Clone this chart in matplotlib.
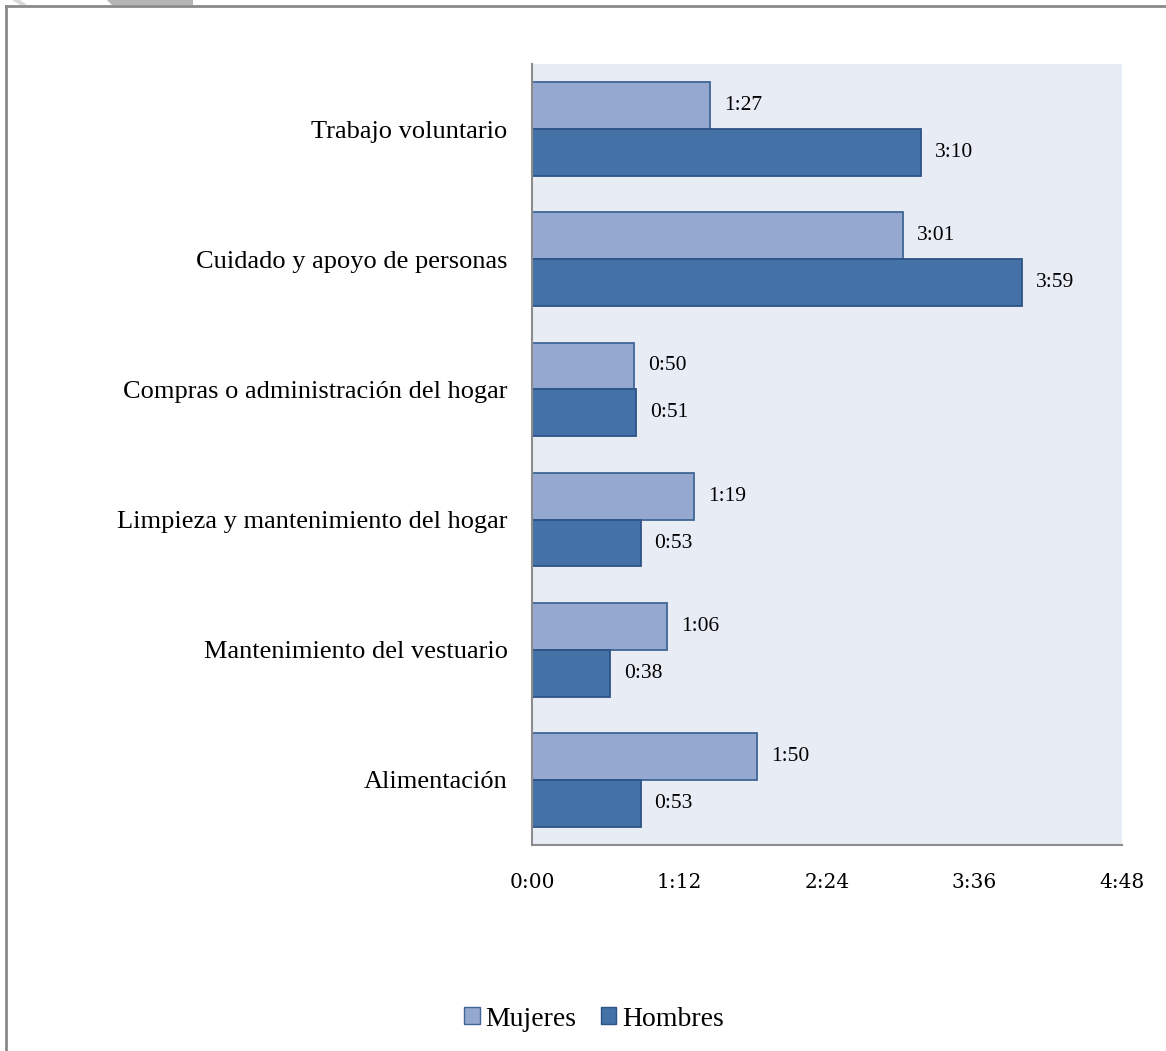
import matplotlib
matplotlib.use("Agg")
import matplotlib.pyplot as plt
from matplotlib.patches import Patch, Polygon
from matplotlib.lines import Line2D

# Categories listed bottom to top
categories = [
    "Alimentación",
    "Mantenimiento del vestuario",
    "Limpieza y mantenimiento del hogar",
    "Compras o administración del hogar",
    "Cuidado y apoyo de personas",
    "Trabajo voluntario",
]
# Average time in minutes
mujeres = [110, 66, 79, 50, 181, 87]
hombres = [53, 38, 53, 51, 239, 190]
tick_minutes = [0, 72, 144, 216, 288]


def fmt(m):
    return f"{m // 60}:{m % 60:02d}"


W, H = 1166, 1051
fig = plt.figure(figsize=(W / 100, H / 100), dpi=100)
fig.patch.set_facecolor("white")

# frame around the chart
fig.add_artist(Line2D([5.5 / W, 5.5 / W], [0, 1 - 6 / H], transform=fig.transFigure,
                      color="#8a8a8a", lw=2))
fig.add_artist(Line2D([5.5 / W, 1], [1 - 6 / H, 1 - 6 / H], transform=fig.transFigure,
                      color="#8a8a8a", lw=2))
# grey shapes along the top edge
fig.add_artist(Polygon([[12 / W, 1], [20 / W, 1 - 5 / H], [27 / W, 1 - 5 / H], [20 / W, 1]],
                       closed=True, transform=fig.transFigure, color="#d9d9d9", lw=0))
fig.add_artist(Polygon([[107 / W, 1], [112 / W, 1 - 5 / H], [193 / W, 1 - 5 / H], [193 / W, 1]],
                       closed=True, transform=fig.transFigure, color="#b5b5b5", lw=0))

left, right, top, bottom = 532, 1122, 64, 845
ax = fig.add_axes([left / W, 1 - bottom / H, (right - left) / W, (bottom - top) / H])
ax.set_facecolor("#E8ECF4")

y = list(range(len(categories)))
h = 0.36
col_m, edge_m = "#95A9D0", "#3F6595"
col_h, edge_h = "#4472A7", "#2D5487"
ax.barh([v + h / 2 for v in y], mujeres, height=h, color=col_m, edgecolor=edge_m, lw=1.3)
ax.barh([v - h / 2 for v in y], hombres, height=h, color=col_h, edgecolor=edge_h, lw=1.3)

serif = "Liberation Serif"
for i in y:
    ax.annotate(fmt(mujeres[i]), (mujeres[i], i + h / 2), xytext=(14, 0),
                textcoords="offset pixels", va="center", ha="left",
                fontsize=15.5, family=serif)
    ax.annotate(fmt(hombres[i]), (hombres[i], i - h / 2), xytext=(14, 0),
                textcoords="offset pixels", va="center", ha="left",
                fontsize=15.5, family=serif)

ax.set_xlim(0, 288)
ax.set_ylim(-0.5, len(categories) - 0.5)
ax.set_xticks(tick_minutes)
ax.set_xticklabels([fmt(t) for t in tick_minutes], family="DejaVu Serif", fontsize=14.5)
ax.set_yticks(y)
ax.set_yticklabels(categories, family=serif, fontsize=19)
ax.tick_params(axis="x", length=0, pad=20)
ax.tick_params(axis="y", length=0, pad=17.5)
for s in ["top", "right"]:
    ax.spines[s].set_visible(False)
for s in ["left", "bottom"]:
    ax.spines[s].set_color("#8c8c8c")
    ax.spines[s].set_linewidth(1.5)

handles = [Patch(facecolor=col_m, edgecolor=edge_m, label="Mujeres"),
           Patch(facecolor=col_h, edgecolor=edge_h, label="Hombres")]
fig.legend(handles=handles, loc="center", bbox_to_anchor=(594 / W, 1 - 1019 / H),
           ncol=2, frameon=False, prop={"family": serif, "size": 20},
           handlelength=0.55, handleheight=0.55, handletextpad=0.2, columnspacing=0.9)

fig.savefig("out.png", dpi=100)
